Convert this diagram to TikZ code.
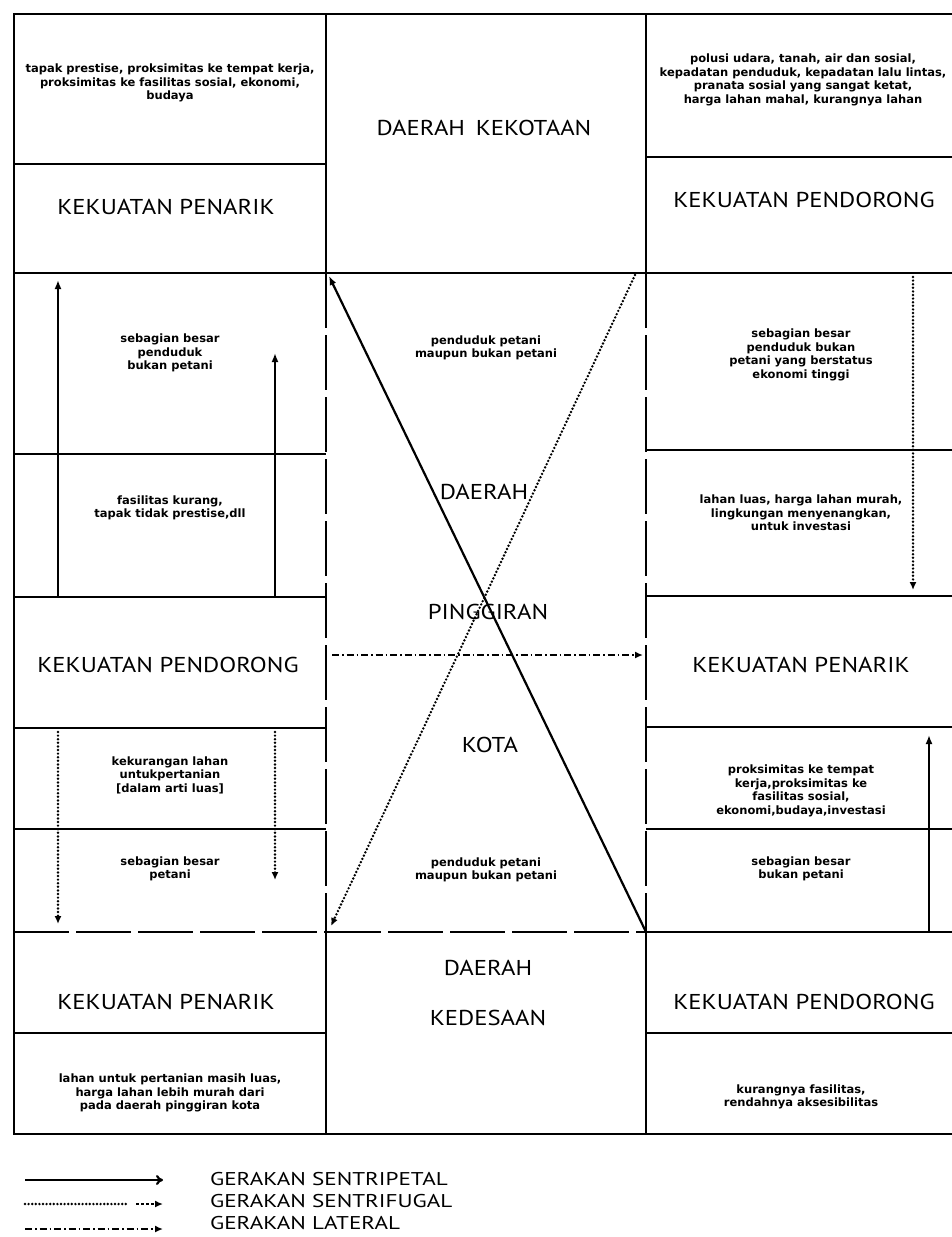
\documentclass[tikz,border=0pt]{standalone}
\usepackage{fontspec}
\setmainfont{PT Sans}
\newfontfamily\headfont[FakeStretch=1.15]{PT Sans}
\newfontfamily\legfont[FakeStretch=1.25]{PT Sans}
\newfontfamily\descfont{DejaVu Sans}
\usetikzlibrary{arrows.meta}
\begin{document}
\begin{tikzpicture}[x=1pt,y=-1pt,
  frame/.style={line width=2.6pt},
  brk/.style={line width=2.6pt, dash pattern=on 55pt off 7pt},
  cp/.style={line width=2.2pt, -{Latex[length=9pt,width=7pt]}},
  cf/.style={line width=2.7pt, dash pattern=on 0pt off 3.6pt, line cap=round, -{Latex[length=8pt,width=7pt]}},
  cfplain/.style={line width=2.7pt, dash pattern=on 0pt off 3.6pt, line cap=round},
  cfdash/.style={line width=2pt, dash pattern=on 3pt off 2pt, -{Latex[length=8pt,width=7pt]}},
  lat/.style={line width=2.2pt, dash pattern=on 7pt off 3pt on 1.5pt off 3pt, -{Latex[length=8pt,width=7pt]}},
  legcp/.style={line width=2.2pt, -{To[length=7pt,width=10pt]}},
  head/.style={font=\headfont\fontsize{21.5}{25}\selectfont, align=center, inner sep=0pt},
  desc/.style={font=\descfont\bfseries\fontsize{11.5}{13.5}\selectfont, align=center, inner sep=0pt},
  leg/.style={font=\legfont\fontsize{18.5}{22}\selectfont, anchor=west, inner sep=0pt},
]
\useasboundingbox[fill=white] (0,0) rectangle (952,1237);

% ---------- frame ----------
\draw[frame] (952,14) -- (14,14) -- (14,1134) -- (952,1134);
\draw[frame] (326,14) -- (326,273);
\draw[brk]   (326,273) -- (326,932);
\draw[frame] (326,932) -- (326,1134);
\draw[frame] (646,14) -- (646,273);
\draw[brk]   (646,273) -- (646,932);
\draw[frame] (646,932) -- (646,1134);
% left column rows
\foreach \y in {164,273,454,597,728,829,1033} \draw[frame] (14,\y) -- (326,\y);
\draw[brk] (14,932) -- (326,932);
% centre column rows
\draw[frame] (326,273) -- (646,273);
\draw[brk] (326,932) -- (646,932);
% right column rows
\foreach \y in {157,273,450,596,727,829,932,1033} \draw[frame] (646,\y) -- (952,\y);

% ---------- left column texts ----------
\node[desc] (l1) at (170,83) {tapak prestise, proksimitas ke tempat kerja,\\proksimitas ke fasilitas sosial, ekonomi,\\budaya};
\node[head] (l2) at (166,207) {KEKUATAN PENARIK};
\node[desc] (l3) at (170,353) {sebagian besar\\penduduk\\bukan petani};
\node[desc] (l4) at (170,508) {fasilitas kurang,\\tapak tidak prestise,dll};
\node[head] (l5) at (168,665) {KEKUATAN PENDORONG};
\node[desc] (l6) at (170,775) {kekurangan lahan\\untukpertanian\\{[}dalam arti luas{]}};
\node[desc] (l7) at (170,869) {sebagian besar\\petani};
\node[head] (l8) at (166,1002) {KEKUATAN PENARIK};
\node[desc] (l9) at (170,1093) {lahan untuk pertanian masih luas,\\harga lahan lebih murah dari\\pada daerah pinggiran kota};

% ---------- centre column texts ----------
\node[head] (c1) at (484,128) {DAERAH\hspace{0.5em}KEKOTAAN};
\node[desc] (c2) at (486,348) {penduduk petani\\maupun bukan petani};
\node[head] (c3) at (484,492) {DAERAH};
\node[head] (c4) at (488,612) {PINGGIRAN};
\node[head] (c5) at (490,745) {KOTA};
\node[desc] (c6) at (486,870) {penduduk petani\\maupun bukan petani};
\node[head] (c7) at (488,968) {DAERAH};
\node[head] (c8) at (488,1018) {KEDESAAN};

% ---------- right column texts ----------
\node[desc] (r1) at (803,80) {polusi udara, tanah, air dan sosial,\\kepadatan penduduk, kepadatan lalu lintas,\\pranata sosial yang sangat ketat,\\harga lahan mahal, kurangnya lahan};
\node[head] (r2) at (804,200) {KEKUATAN PENDORONG};
\node[desc] (r3) at (801,355) {sebagian besar\\penduduk bukan\\petani yang berstatus\\ekonomi tinggi};
\node[desc] (r4) at (801,513) {lahan luas, harga lahan murah,\\lingkungan menyenangkan,\\untuk investasi};
\node[head] (r5) at (801,665) {KEKUATAN PENARIK};
\node[desc] (r6) at (801,791) {proksimitas ke tempat\\kerja,proksimitas ke\\fasilitas sosial,\\ekonomi,budaya,investasi};
\node[desc] (r7) at (801,869) {sebagian besar\\bukan petani};
\node[head] (r8) at (804,1002) {KEKUATAN PENDORONG};
\node[desc] (r9) at (801,1097) {kurangnya fasilitas,\\rendahnya aksesibilitas};

% ---------- movement arrows ----------
\coordinate (a1s) at (58,597);  \coordinate (a1e) at (58,280);
\coordinate (a2s) at (275,597); \coordinate (a2e) at (275,353);
\coordinate (a3s) at (929,932); \coordinate (a3e) at (929,735);
\coordinate (a4s) at (646,932); \coordinate (a4e) at (329,276);
\draw[cp] (a1s) -- (a1e);
\draw[cp] (a2s) -- (a2e);
\draw[cp] (a3s) -- (a3e);
\draw[cp] (a4s) -- (a4e);

\coordinate (b1s) at (913,277); \coordinate (b1e) at (913,590);
\coordinate (b2s) at (58,732);  \coordinate (b2e) at (58,924);
\coordinate (b3s) at (275,732); \coordinate (b3e) at (275,880);
\coordinate (b4s) at (635,275); \coordinate (b4e) at (331,926);
\draw[cf] (b1s) -- (b1e);
\draw[cf] (b2s) -- (b2e);
\draw[cf] (b3s) -- (b3e);
\draw[cf] (b4s) -- (b4e);

\coordinate (d1s) at (332,655); \coordinate (d1e) at (643,655);
\draw[lat] (d1s) -- (d1e);

% ---------- legend ----------
\coordinate (g1s) at (25,1180); \coordinate (g1e) at (163,1180);
\coordinate (g2s) at (25,1204); \coordinate (g2m) at (128,1204);
\coordinate (g2n) at (136,1204); \coordinate (g2e) at (163,1204);
\coordinate (g3s) at (25,1229); \coordinate (g3e) at (163,1229);
\draw[legcp] (g1s) -- (g1e);
\draw[cfplain] (g2s) -- (g2m);
\draw[cfdash] (g2n) -- (g2e);
\draw[lat] (g3s) -- (g3e);
\node[leg] (t1) at (210,1179) {GERAKAN SENTRIPETAL};
\node[leg] (t2) at (210,1201) {GERAKAN SENTRIFUGAL};
\node[leg] (t3) at (210,1223) {GERAKAN LATERAL};
\end{tikzpicture}
\end{document}
